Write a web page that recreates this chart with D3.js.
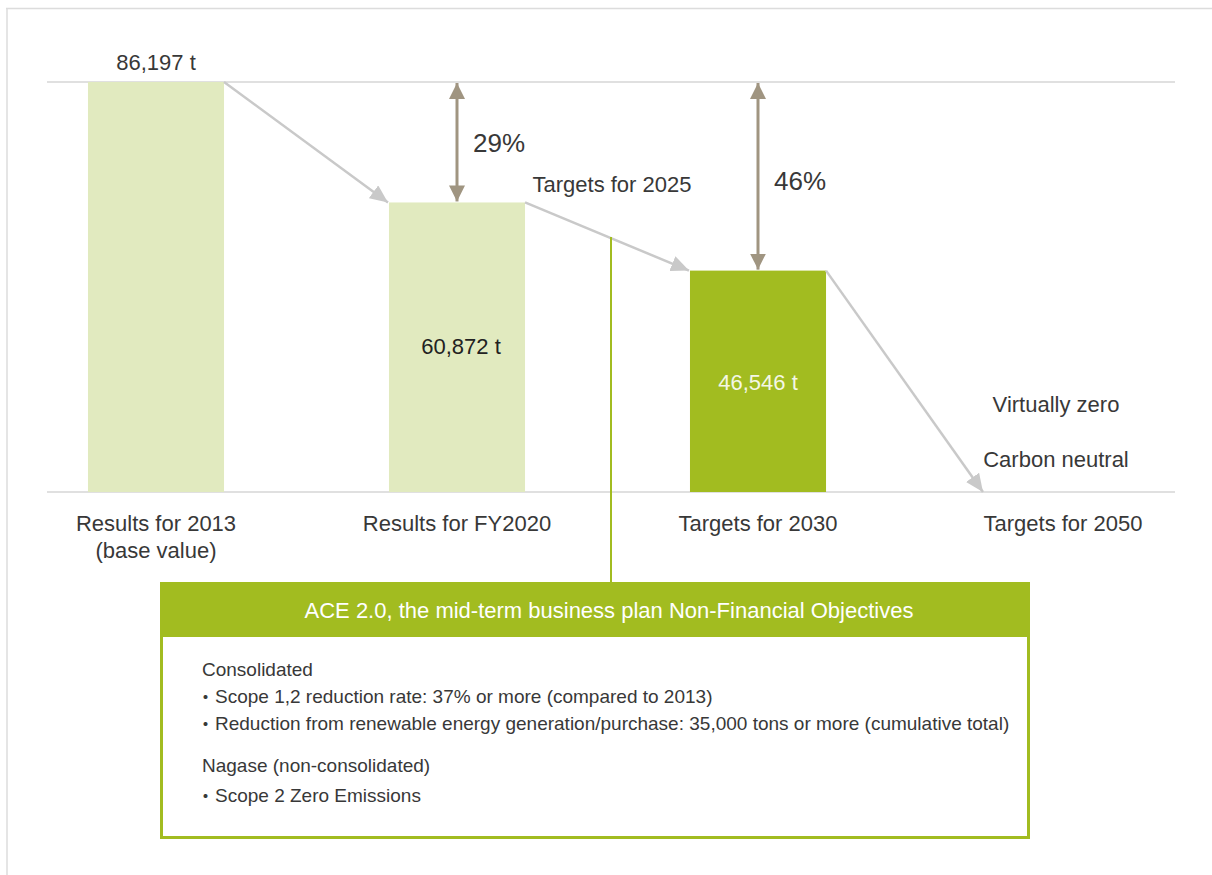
<!DOCTYPE html>
<html>
<head>
<meta charset="utf-8">
<script src="https://cdn.jsdelivr.net/npm/d3@7/dist/d3.min.js"></script>
<style>
  html, body { margin: 0; padding: 0; background: #fff; }
  svg { display: block; font-family: "Liberation Sans", Arial, Helvetica, sans-serif; }
</style>
</head>
<body>
<svg id="chart" width="1212" height="875"></svg>
<script>
// ---- data ----
const categories = ["Results for 2013|(base value)", "Results for FY2020", "Targets for 2030", "Targets for 2050"];
const values = [86197, 60872, 46546, 0];
const valueLabels = ["86,197 t", "60,872 t", "46,546 t", ""];
const barKinds = ["result", "result", "target", "none"];
const reductionLabels = [null, "29%", "46%", null];
const targetNotes = ["Virtually zero", "Carbon neutral"];
const midLabel = "Targets for 2025";
const boxTitle = "ACE 2.0, the mid-term business plan Non-Financial Objectives";
const boxLines = [
  { text: "Consolidated", bullet: false },
  { text: "Scope 1,2 reduction rate: 37% or more (compared to 2013)", bullet: true },
  { text: "Reduction from renewable energy generation/purchase: 35,000 tons or more (cumulative total)", bullet: true },
  { text: "Nagase (non-consolidated)", bullet: false },
  { text: "Scope 2 Zero Emissions", bullet: true }
];

// ---- layout ----
const svg = d3.select("#chart");
const textColor = "#383838";
const lightGreen = "#e1eabf";
const green = "#a2bc20";
const grayArrow = "#c9c9c9";
const brown = "#a09581";

const x = d3.scaleBand().domain(categories).range([5.5, 1209.5]).paddingInner(0.548).paddingOuter(0.274);
const y = d3.scaleLinear().domain([0, values[0]]).range([492, 82]);

// page frame
svg.append("line").attr("x1", 6).attr("x2", 1212).attr("y1", 8.5).attr("y2", 8.5).attr("stroke", "#dcdcdc").attr("stroke-width", 1.5);
svg.append("line").attr("x1", 7).attr("x2", 7).attr("y1", 8).attr("y2", 875).attr("stroke", "#dcdcdc").attr("stroke-width", 1.5);

// markers
const defs = svg.append("defs");
defs.append("marker").attr("id", "grayHead").attr("markerUnits", "userSpaceOnUse")
  .attr("viewBox", "0 0 18 16").attr("refX", 18).attr("refY", 8)
  .attr("markerWidth", 18).attr("markerHeight", 16).attr("orient", "auto")
  .append("path").attr("d", "M0,0 L18,8 L0,16 Z").attr("fill", grayArrow);
defs.append("marker").attr("id", "brownHead").attr("markerUnits", "userSpaceOnUse")
  .attr("viewBox", "0 0 16 16").attr("refX", 16).attr("refY", 8)
  .attr("markerWidth", 16).attr("markerHeight", 16).attr("orient", "auto-start-reverse")
  .append("path").attr("d", "M0,0 L16,8 L0,16 Z").attr("fill", brown);

// gridlines (base value and zero)
[values[0], 0].forEach(v => {
  svg.append("line").attr("x1", 47).attr("x2", 1175).attr("y1", y(v)).attr("y2", y(v))
    .attr("stroke", "#d6d6d6").attr("stroke-width", 1.5);
});

// bars
const bars = categories.map((c, i) => ({ c, v: values[i], kind: barKinds[i], label: valueLabels[i], red: reductionLabels[i] }));
svg.append("g").selectAll("rect").data(bars.filter(d => d.kind !== "none")).join("rect")
  .attr("x", d => x(d.c)).attr("width", x.bandwidth())
  .attr("y", d => y(d.v)).attr("height", d => y(0) - y(d.v))
  .attr("fill", d => d.kind === "target" ? green : lightGreen);

// connecting arrows
for (let i = 0; i < bars.length - 1; i++) {
  const a = bars[i], b = bars[i + 1];
  svg.append("line")
    .attr("x1", x(a.c) + x.bandwidth()).attr("y1", y(a.v))
    .attr("x2", x(b.c) - (b.kind === "none" ? 8 : 1)).attr("y2", y(b.v))
    .attr("stroke", grayArrow).attr("stroke-width", 2.5)
    .attr("marker-end", "url(#grayHead)");
}

// reduction double arrows
bars.filter(d => d.red).forEach(d => {
  const cx = x(d.c) + x.bandwidth() / 2;
  svg.append("line").attr("x1", cx).attr("x2", cx).attr("y1", y(values[0]) + 1).attr("y2", y(d.v) - 1)
    .attr("stroke", brown).attr("stroke-width", 3)
    .attr("marker-start", "url(#brownHead)").attr("marker-end", "url(#brownHead)");
  svg.append("text").attr("x", cx + 16).attr("y", d.v === values[2] ? 190 : 152)
    .attr("font-size", 26).attr("fill", textColor).text(d.red);
});

// value labels
svg.append("text").attr("x", x(bars[0].c) + x.bandwidth() / 2).attr("y", y(bars[0].v) - 12)
  .attr("text-anchor", "middle").attr("font-size", 22).attr("fill", textColor).text(bars[0].label);
svg.append("text").attr("x", x(bars[1].c) + x.bandwidth() / 2 + 4).attr("y", 354)
  .attr("text-anchor", "middle").attr("font-size", 22).attr("fill", "#222").text(bars[1].label);
svg.append("text").attr("x", x(bars[2].c) + x.bandwidth() / 2).attr("y", 390)
  .attr("text-anchor", "middle").attr("font-size", 22).attr("fill", "#f4f7e6").text(bars[2].label);

// category labels
bars.forEach(d => {
  const t = svg.append("text").attr("text-anchor", "middle").attr("font-size", 22).attr("fill", textColor);
  const cx = x(d.c) + x.bandwidth() / 2 + (d.kind === "none" ? 4 : 0);
  d.c.split("|").forEach((line, j) => {
    t.append("tspan").attr("x", cx).attr("y", 531 + j * 27).text(line);
  });
});

// 2050 notes
const c4 = x(categories[3]) + x.bandwidth() / 2 - 3;
targetNotes.forEach((n, j) => {
  svg.append("text").attr("x", c4).attr("y", 412 + j * 55).attr("text-anchor", "middle")
    .attr("font-size", 22).attr("fill", textColor).text(n);
});

// 2025 marker
svg.append("text").attr("x", 612).attr("y", 192).attr("text-anchor", "middle")
  .attr("font-size", 22).attr("fill", textColor).text(midLabel);
svg.append("line").attr("x1", 611).attr("x2", 611).attr("y1", 237).attr("y2", 582)
  .attr("stroke", green).attr("stroke-width", 2);

// objectives box
const bx = 160, bw = 870, by = 582, bh = 257, hh = 55;
svg.append("rect").attr("x", bx + 1.5).attr("y", by + 1.5).attr("width", bw - 3).attr("height", bh - 3)
  .attr("fill", "#fff").attr("stroke", green).attr("stroke-width", 3);
svg.append("rect").attr("x", bx).attr("y", by).attr("width", bw).attr("height", hh).attr("fill", green);
svg.append("text").attr("x", 609).attr("y", by + hh / 2 + 8).attr("text-anchor", "middle")
  .attr("font-size", 22).attr("fill", "#fff").text(boxTitle);

const lineYs = [676, 703, 730, 772, 802];
boxLines.forEach((l, i) => {
  const t = svg.append("text").attr("y", lineYs[i]).attr("font-size", 19).attr("fill", textColor);
  if (l.bullet) {
    t.attr("x", 196);
    t.append("tspan").attr("font-family", "'Noto Sans CJK JP'").attr("dy", 2).text("・");
    t.append("tspan").attr("dy", -2).text(l.text);
  } else {
    t.attr("x", 202).text(l.text);
  }
});
</script>
</body>
</html>
